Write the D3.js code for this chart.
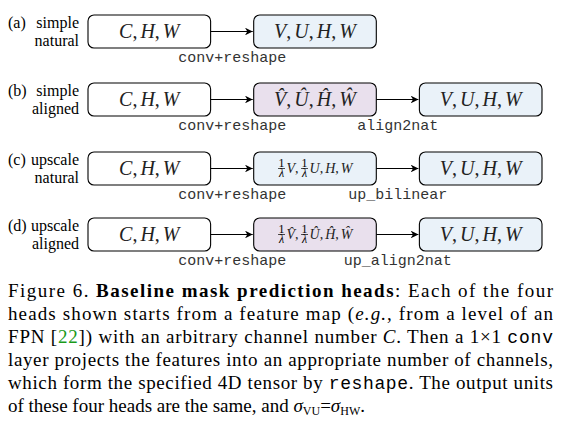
<!DOCTYPE html>
<html><head><meta charset="utf-8">
<script src="https://cdn.jsdelivr.net/npm/d3@7"></script>
<style>body{margin:0;background:#fff}</style>
</head><body>
<svg id="fig" width="566" height="433"></svg>
<script>
// rows of the figure
const rowIds = ['(a)', '(b)', '(c)', '(d)']
const rowLine1 = ['simple', 'simple', 'upscale', 'upscale']
const rowLine2 = ['natural', 'aligned', 'natural', 'aligned']
// box contents per row: 'chw', 'vuhw', 'hat', 'frac', 'frachat'
const rowBoxes = [
  ['chw', 'vuhw'],
  ['chw', 'hat', 'vuhw'],
  ['chw', 'frac', 'vuhw'],
  ['chw', 'frachat', 'vuhw']
]
const rowOps = [
  ['conv+reshape'],
  ['conv+reshape', 'align2nat'],
  ['conv+reshape', 'up_bilinear'],
  ['conv+reshape', 'up_align2nat']
]
const rowTops = [15, 83, 152, 218]
const captionLines = [
  [['Figure 6. ', 'n'], ['Baseline mask prediction heads', 'b'], [': Each of the four', 'n']],
  [['heads shown starts from a feature map (', 'n'], ['e.g.', 'i'], [', from a level of an', 'n']],
  [['FPN [', 'n'], ['22', 'g'], [']) with an arbitrary channel number ', 'n'], ['C', 'i'], ['. Then a 1×1 ', 'n'], ['conv', 'c']],
  [['layer projects the features into an appropriate number of channels,', 'n']],
  [['which form the specified 4D tensor by ', 'n'], ['reshape', 'c'], ['. The output units', 'n']],
  [['of these four heads are the same, and ', 'n'], ['σ', 'i'], ['VU', 'sub'], ['=', 'n'], ['σ', 'i'], ['HW', 'sub'], ['.', 'n']]
]

const fills = { chw: '#ffffff', vuhw: '#eaf2f9', hat: '#e9e0ed', frac: '#eaf2f9', frachat: '#e9e0ed' }
const serif = "'Liberation Serif', 'Times New Roman', serif"
const mono = "'Liberation Mono', 'Courier New', monospace"

const svg = d3.select('#fig')
const x = d3.scaleBand().domain([0, 1, 2]).range([88, 542]).paddingInner(0.26).paddingOuter(0)
const boxH = 33

svg.append('defs').append('marker')
  .attr('id', 'ah').attr('viewBox', '0 0 10 10').attr('refX', 10).attr('refY', 5)
  .attr('markerWidth', 7).attr('markerHeight', 7).attr('orient', 'auto')
  .append('path').attr('d', 'M0,0 L10,5 L0,10 L3,5 z').attr('fill', '#000')

// lay out tokens left to right, centred at cx
function mathText(g, tokens, cx, cy, size) {
  const grp = g.append('g')
  let pos = 0
  tokens.forEach(tk => {
    if (tk.frac) {
      const fs = size * 0.85
      const n = grp.append('text').attr('x', pos).attr('y', cy - 2).text('1')
        .attr('font-family', serif).attr('font-size', fs).attr('text-anchor', 'middle')
      const d = grp.append('text').attr('x', pos).attr('y', cy + fs * 0.75).text('λ')
        .attr('font-family', serif).attr('font-style', 'italic').attr('font-size', fs).attr('text-anchor', 'middle')
      const w = Math.max(n.node().getComputedTextLength(), d.node().getComputedTextLength()) + 2
      n.attr('x', pos + w / 2); d.attr('x', pos + w / 2)
      grp.append('line').attr('x1', pos + 0.5).attr('x2', pos + w - 0.5)
        .attr('y1', cy).attr('y2', cy).attr('stroke', '#000').attr('stroke-width', 0.7)
      pos += w + 1
    } else {
      const t = grp.append('text').attr('x', pos).attr('y', cy + size * 0.33).text(tk.t)
        .attr('font-family', serif).attr('font-size', size)
        .attr('font-style', tk.it ? 'italic' : 'normal').attr('fill', '#222')
      pos += t.node().getComputedTextLength() + (tk.sp || 0)
    }
  })
  grp.attr('transform', `translate(${cx - pos / 2},0)`)
}

function tokensFor(kind) {
  const I = t => ({ t, it: true }), P = t => ({ t, sp: 3 })
  if (kind === 'chw') return [I('C'), P(','), I('H'), P(','), I('W')]
  if (kind === 'vuhw') return [I('V'), P(','), I('U'), P(','), I('H'), P(','), I('W')]
  if (kind === 'hat') return [I('V\u0302'), P(','), I('U\u0302'), P(','), I('H\u0302'), P(','), I('W\u0302')]
  const h = kind === 'frachat' ? '\u0302' : ''
  const P2 = t => ({ t, sp: 2 })
  return [{ frac: true }, I('V' + h), P2(','), { frac: true }, I('U' + h), P2(','), I('H' + h), P2(','), I('W' + h)]
}

rowIds.forEach((id, r) => {
  const top = rowTops[r], cy = top + boxH / 2
  const g = svg.append('g')
  g.append('text').attr('x', 8).attr('y', cy - 4).text(id)
    .attr('font-family', serif).attr('font-size', 16)
  g.append('text').attr('x', 79).attr('y', cy - 4).text(rowLine1[r])
    .attr('font-family', serif).attr('font-size', 16).attr('text-anchor', 'end')
  g.append('text').attr('x', 79).attr('y', cy + 14).text(rowLine2[r])
    .attr('font-family', serif).attr('font-size', 16).attr('text-anchor', 'end')

  rowBoxes[r].forEach((kind, i) => {
    g.append('rect').attr('x', x(i)).attr('y', top).attr('width', x.bandwidth()).attr('height', boxH)
      .attr('rx', 6).attr('fill', fills[kind]).attr('stroke', '#000').attr('stroke-width', 1.1)
    const small = kind.startsWith('frac')
    mathText(g, tokensFor(kind), x(i) + x.bandwidth() / 2, cy, small ? 14 : 20)
    if (i > 0) {
      g.append('line').attr('x1', x(i - 1) + x.bandwidth()).attr('x2', x(i) - 1)
        .attr('y1', cy).attr('y2', cy).attr('stroke', '#000').attr('stroke-width', 1.1)
        .attr('marker-end', 'url(#ah)')
      g.append('text').attr('x', (x(i - 1) + x.bandwidth() + x(i)) / 2)
        .attr('y', top + boxH + 14).text(rowOps[r][i - 1])
        .attr('font-family', mono).attr('font-size', 15).attr('text-anchor', 'middle').attr('fill', '#333')
    }
  })
})

// caption
const fontOf = { n: serif, b: serif, i: serif, g: serif, c: mono, sub: serif }
captionLines.forEach((line, k) => {
  const t = svg.append('text').attr('x', 8).attr('y', 297 + k * 23)
    .attr('font-family', serif).attr('font-size', 19)
  line.forEach(([s, f]) => {
    const ts = t.append('tspan').text(s).attr('font-family', fontOf[f])
    if (f === 'b') ts.attr('font-weight', 'bold')
    if (f === 'i') ts.attr('font-style', 'italic')
    if (f === 'g') ts.attr('fill', '#1a9a1a')
    if (f === 'c') ts.attr('font-size', 18)
    if (f === 'sub') ts.attr('font-size', 12).attr('baseline-shift', '-25%')
  })
  if (k < captionLines.length - 1) t.attr('textLength', 545).attr('lengthAdjust', 'spacing')
})
</script>
</body></html>
